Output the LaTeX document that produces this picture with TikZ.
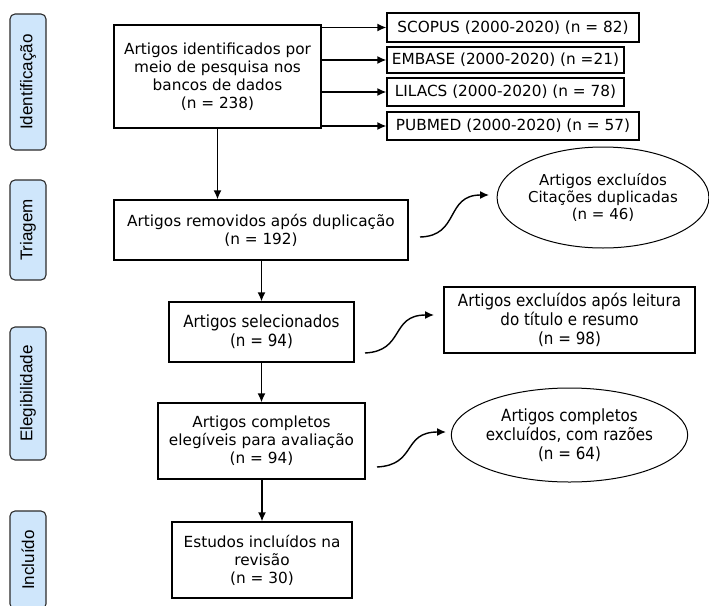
\documentclass[tikz,border=0pt]{standalone}
\usepackage{fontspec}
\setmainfont{DejaVu Sans}
\newfontfamily\condf{DejaVu Sans Condensed}
\newfontfamily\arialf{Liberation Sans}
\usetikzlibrary{arrows.meta,shapes.geometric}
\definecolor{lblfill}{HTML}{CFE6FB}
\definecolor{lbldraw}{HTML}{2B2B2B}
\begin{document}
\begin{tikzpicture}[x=1pt,y=-1pt,
  box/.style={draw=black, line width=1.3pt, align=center, inner sep=0pt,
    font=\fontsize{15.3}{18}\selectfont},
  cbox/.style={box, font=\condf\fontsize{16.8}{19}\selectfont},
  ell/.style={ellipse, draw=black, line width=1pt, align=center, inner sep=0pt},
  lbl/.style={draw=lbldraw, fill=lblfill, line width=1.1pt, rounded corners=5pt,
    rotate=90, inner sep=0pt, minimum height=36pt,
    font=\arialf\fontsize{17}{20}\selectfont},
  arr/.style={line width=1.4pt, -{Latex[length=9pt,width=8pt]}},
  carr/.style={line width=1.4pt, -{Latex[length=9pt,width=8pt]}}
]
\clip (0,0) rectangle (709,605);
% side labels
\node[lbl, minimum width=136pt] (lid) at (28,82) {Identificação};
\node[lbl, minimum width=100pt] (ltr) at (28,230) {Triagem};
\node[lbl, minimum width=133pt] (lel) at (28,393.5) {Elegibilidade};
\node[lbl, minimum width=98pt] (lin) at (28,560) {Incluído};
% identification
\node[box, minimum width=207pt, minimum height=103pt] (b1) at (217.5,76.5)
  {Artigos identificados por\\meio de pesquisa nos\\bancos de dados\\(n = 238)};
\node[box, minimum width=252pt, minimum height=29pt] (scopus) at (513,27.5) {SCOPUS (2000-2020) (n = 82)};
\node[box, minimum width=237pt, minimum height=26pt] (embase) at (505.5,60) {EMBASE (2000-2020) (n =21)};
\node[box, minimum width=237pt, minimum height=28pt] (lilacs) at (505.5,92) {LILACS (2000-2020) (n = 78)};
\node[box, minimum width=252pt, minimum height=28pt] (pubmed) at (513,126) {PUBMED (2000-2020) (n = 57)};
\foreach \t in {scopus,embase,lilacs,pubmed}
  \draw[arr] (b1.east |- \t.west) -- (\t.west);
% screening
\node[box, minimum width=294pt, minimum height=60pt] (b2) at (261,230)
  {Artigos removidos após duplicação\\(n = 192)};
\draw[arr] (b1.south) -- (b1.south |- b2.north);
\node[ell, minimum width=210pt, minimum height=101pt,
  font=\fontsize{15}{17}\selectfont] (e1) at (603,197.5)
  {Artigos excluídos\\Citações duplicadas\\(n = 46)};
\coordinate (c1s) at (420,237);
\coordinate (c1e) at (489,195);
\draw[carr] (c1s) .. controls (460,236) and (445,195) .. (c1e);
% eligibility
\node[cbox, minimum width=185pt, minimum height=60pt] (b3) at (261.5,332)
  {Artigos selecionados\\(n = 94)};
\draw[arr] (b2.south -| b3.north) -- (b3.north);
\node[cbox, minimum width=251pt, minimum height=66pt] (x2) at (569.5,320)
  {Artigos excluídos após leitura\\do título e resumo\\(n = 98)};
\coordinate (c2s) at (365,353);
\coordinate (c2e) at (434,315);
\draw[carr] (c2s) .. controls (405,351) and (390,315) .. (c2e);
\node[box, minimum width=207pt, minimum height=76pt] (b4) at (261.5,441)
  {Artigos completos\\elegíveis para avaliação\\(n = 94)};
\draw[arr] (b3.south) -- (b3.south |- b4.north);
\node[ell, minimum width=225pt, minimum height=94pt,
  font=\condf\fontsize{16.8}{19}\selectfont] (e2) at (569.5,435)
  {Artigos completos\\excluídos, com razões\\(n = 64)};
\coordinate (c3s) at (377,467);
\coordinate (c3e) at (446,432);
\draw[carr] (c3s) .. controls (417,465) and (402,432) .. (c3e);
% included
\node[box, minimum width=180pt, minimum height=76pt] (b5) at (262,560)
  {Estudos incluídos na\\revisão\\(n = 30)};
\draw[arr] (b4.south -| b5.north) -- (b5.north);
\end{tikzpicture}
\end{document}
